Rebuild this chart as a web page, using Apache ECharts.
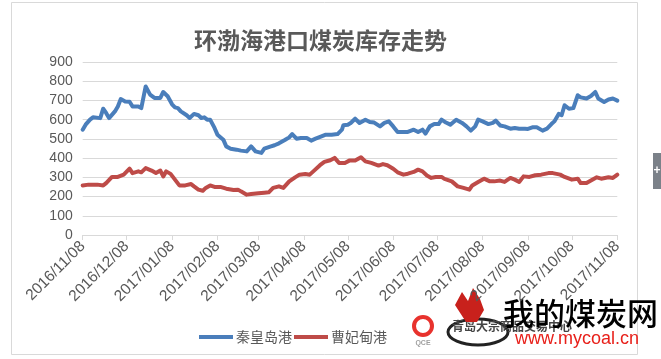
<!DOCTYPE html>
<html>
<head>
<meta charset="utf-8">
<script src="https://cdn.jsdelivr.net/npm/echarts@6/dist/echarts.min.js"></script>
<style>
html,body{margin:0;padding:0;background:#fff;}
#c{width:661px;height:359px;}
</style>
</head>
<body>
<div id="c"></div>
<script>
// ---- data (day offsets counted from 2016/11/08) ----
const startDate = '2016/11/08';
const dayCount = 366;
const yTicks = [0, 100, 200, 300, 400, 500, 600, 700, 800, 900];
const seriesNames = ['秦皇岛港', '曹妃甸港'];

const qhdDays = [0,2,5,7,12,14,16,18,22,24,26,29,32,34,38,40,43,46,49,53,55,58,61,63,65,67,71,73,76,79,81,83,85,87,90,92,96,98,101,105,108,112,115,118,122,124,128,131,134,138,141,143,146,149,153,156,159,163,166,170,174,177,178,181,183,186,189,193,196,199,203,206,209,212,215,219,222,226,229,232,234,237,240,243,245,248,251,255,259,262,265,268,270,273,277,280,282,285,288,292,295,298,302,304,307,310,314,317,320,322,325,327,329,332,335,338,340,344,347,350,352,356,359,362,365];
const qhdValues = [548,574,600,612,608,657,635,608,643,669,707,695,693,669,669,660,773,730,713,713,744,722,680,664,660,643,623,609,630,623,609,612,600,600,557,522,496,461,449,444,439,435,461,435,427,449,460,467,477,494,508,525,501,505,505,491,501,513,522,522,525,548,571,574,583,605,583,600,588,585,565,583,591,565,536,536,536,548,536,548,527,565,577,577,600,585,574,600,583,565,543,565,600,591,577,583,595,570,565,553,557,553,553,552,560,560,543,553,577,591,630,623,675,657,660,727,716,710,723,744,710,692,705,710,699];

const cfdDays = [0,4,10,14,16,20,24,28,32,34,38,40,43,47,50,53,55,57,60,63,66,70,74,76,79,82,84,87,90,94,98,103,106,108,112,115,120,124,127,130,134,137,141,145,148,152,155,158,162,165,169,172,175,179,182,186,190,193,197,202,205,208,212,215,219,222,226,229,232,235,238,241,245,247,252,256,260,264,266,270,274,278,281,285,288,292,295,298,301,305,309,313,318,321,326,329,334,338,340,344,347,351,354,359,362,365];
const cfdValues = [258,262,262,258,270,302,302,314,345,322,331,326,348,335,322,335,305,331,318,288,258,258,265,253,236,230,245,258,250,250,241,234,236,227,210,213,217,220,222,245,253,245,279,300,314,317,314,335,363,380,389,401,375,375,387,387,404,383,375,361,369,363,345,326,314,319,328,340,331,310,297,302,302,292,279,253,245,236,258,276,293,279,279,283,276,297,288,276,305,302,311,314,322,322,314,302,288,293,270,270,283,300,293,300,297,314];

// ---- build category axis (one category per day) ----
function fmt(d){
  const m = String(d.getUTCMonth()+1).padStart(2,'0');
  const dd = String(d.getUTCDate()).padStart(2,'0');
  return d.getUTCFullYear() + '/' + m + '/' + dd;
}
const categories = [];
const s = startDate.split('/').map(Number);
for (let i = 0; i < dayCount; i++) {
  categories.push(fmt(new Date(Date.UTC(s[0], s[1]-1, s[2] + i))));
}
const isMonthTick = (idx, val) => /\/08$/.test(val);

const qhdData = qhdDays.map((d, i) => [d, qhdValues[i]]);
const cfdData = cfdDays.map((d, i) => [d, cfdValues[i]]);

const chart = echarts.init(document.getElementById('c'), null, {renderer: 'canvas'});
const txt = '#595959';
chart.setOption({
  animation: false,
  backgroundColor: '#fff',
  title: {
    text: '环渤海港口煤炭库存走势',
    left: 189, top: 24,
    textStyle: {fontFamily: '"Noto Sans CJK SC"', fontWeight: 'bold', fontSize: 23, color: txt}
  },
  grid: {left: 82.7, right: 43.7, top: 62, bottom: 124, containLabel: false},
  legend: {
    left: 194, top: 325,
    icon: 'rect', itemWidth: 34, itemHeight: 4, itemGap: 2,
    textStyle: {fontFamily: '"Noto Sans CJK SC"', fontSize: 14, color: txt, padding: [0,0,0,-2]},
    data: seriesNames
  },
  xAxis: {
    type: 'category',
    data: categories,
    boundaryGap: false,
    axisLine: {lineStyle: {color: '#d9d9d9', width: 1}},
    axisTick: {show: true, interval: isMonthTick, length: 5, lineStyle: {color: '#d9d9d9'}},
    axisLabel: {interval: isMonthTick, rotate: 45, color: txt, fontSize: 15.5, margin: 9,
      fontFamily: '"Liberation Sans", Arial, sans-serif'},
    splitLine: {show: false}
  },
  yAxis: {
    type: 'value', min: 0, max: 900, interval: 100,
    axisLine: {show: false}, axisTick: {show: false},
    axisLabel: {color: txt, fontSize: 14, margin: 10, fontFamily: '"Liberation Sans", Arial, sans-serif',
      formatter: v => yTicks.indexOf(v) >= 0 ? String(v) : ''},
    splitLine: {lineStyle: {color: '#d9d9d9', width: 1}}
  },
  series: [
    {name: seriesNames[0], type: 'line', data: qhdData, showSymbol: false, symbol: 'none',
      lineStyle: {color: '#4a7ebb', width: 4, join: 'round', cap: 'round'}, itemStyle: {color: '#4a7ebb'}},
    {name: seriesNames[1], type: 'line', data: cfdData, showSymbol: false, symbol: 'none',
      lineStyle: {color: '#be4b48', width: 4, join: 'round', cap: 'round'}, itemStyle: {color: '#be4b48'}}
  ],
  graphic: [
    {type: 'rect', shape: {x: 11.5, y: 2.5, width: 626, height: 352}, style: {fill: null, stroke: '#d9d9d9', lineWidth: 1}, silent: true, z: -1},
    {type: 'rect', shape: {x: 653, y: 153, width: 8, height: 36}, style: {fill: '#7b8189'}},
    {type: 'text', x: 657, y: 171, style: {text: '+', fill: '#fff', font: 'bold 12px sans-serif', textAlign: 'center', textVerticalAlign: 'middle'}},
    // watermark logos
    {type: 'circle', shape: {cx: 423, cy: 326, r: 9}, style: {fill: null, stroke: '#e8322d', lineWidth: 4}},
    {type: 'text', x: 423, y: 343, style: {text: 'QCE', fill: '#a0a0a0', font: 'bold 7px sans-serif', textAlign: 'center', textVerticalAlign: 'middle'}},
    {type: 'ellipse', shape: {cx: 478, cy: 332, rx: 30, ry: 13}, style: {fill: null, stroke: '#222', lineWidth: 3}},
    {type: 'text', x: 452, y: 326, style: {text: '青岛大宗商品交易中心', fill: '#444', font: 'bold 12px "Noto Sans CJK SC"', textVerticalAlign: 'middle'}},
    {type: 'polygon', shape: {points: [[466,322],[455,305],[462,292],[468,301],[473,288],[480,299],[484,310],[477,322]]}, style: {fill: '#c8211c'}},
    {type: 'text', x: 503, y: 313, style: {text: '我的煤炭网', fill: '#000', font: '500 31px "Noto Sans CJK SC"', textVerticalAlign: 'middle'}},
    {type: 'text', x: 515, y: 339, style: {text: 'www.mycoal.cn', fill: '#e8201a', font: '18px "Liberation Sans", Arial, sans-serif', textVerticalAlign: 'middle'}}
  ]
});
</script>
</body>
</html>
